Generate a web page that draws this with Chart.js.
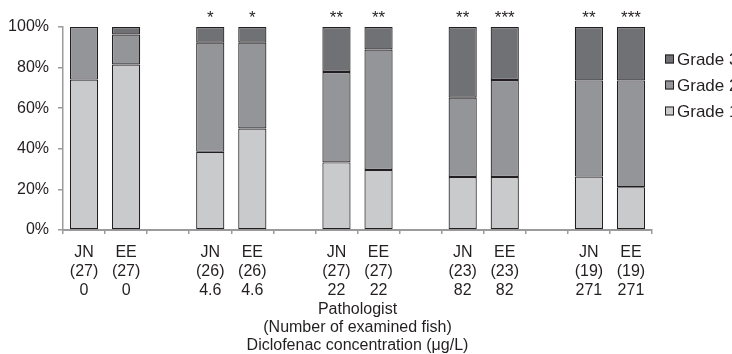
<!DOCTYPE html>
<html>
<head>
<meta charset="utf-8">
<script src="https://cdn.jsdelivr.net/npm/chart.js@4"></script>
<style>
  body { margin: 0; background: #fff; }
  #wrap { width: 732px; height: 354px; }
</style>
</head>
<body>
<div id="wrap"><canvas id="grades" width="732" height="354"></canvas></div>
<script>
// empty slots separate the concentration groups
const pathologists = ['JN', 'EE', '', 'JN', 'EE', '', 'JN', 'EE', '', 'JN', 'EE', '', 'JN', 'EE'];
const fishCounts = ['(27)', '(27)', '', '(26)', '(26)', '', '(27)', '(27)', '', '(23)', '(23)', '', '(19)', '(19)'];
const concentrations = ['0', '0', '', '4.6', '4.6', '', '22', '22', '', '82', '82', '', '271', '271'];

// percent of fish per grade
const grade1 = [74.1, 81.5, null, 38.5, 50.0, null, 33.3, 29.6, null, 26.1, 26.1, null, 26.3, 21.1];
const grade2 = [25.9, 14.8, null, 53.8, 42.3, null, 44.5, 59.3, null, 39.1, 47.8, null, 47.4, 52.6];
const grade3 = [0, 3.7, null, 7.7, 7.7, null, 22.2, 11.1, null, 34.8, 26.1, null, 26.3, 26.3];

const significance = ['', '', '', '*', '*', '', '**', '**', '', '**', '***', '', '**', '***'];

const yTicks = [0, 20, 40, 60, 80, 100];

const TEXT = '#231f20';
const AXIS = '#9b9b9b';
const FONT = 'Liberation Sans, Arial, sans-serif';

const labels = pathologists.map((p, i) => p ? [p, fishCounts[i], concentrations[i]] : '');

// stars above each bar
const starPlugin = {
  id: 'stars',
  afterDatasetsDraw(chart) {
    const ctx = chart.ctx;
    const meta = chart.getDatasetMeta(0);
    ctx.save();
    ctx.font = '17px ' + FONT;
    ctx.fillStyle = TEXT;
    ctx.textAlign = 'center';
    ctx.textBaseline = 'alphabetic';
    significance.forEach((s, i) => {
      if (!s) return;
      const bar = meta.data[i];
      ctx.fillText(s, bar.x, chart.chartArea.top - 4);
    });
    ctx.restore();
  }
};

// legend to the right, top grade first
const legendPlugin = {
  id: 'sideLegend',
  afterDraw(chart) {
    const ctx = chart.ctx;
    const x = chart.chartArea.right + 13;
    const sets = chart.data.datasets.slice().reverse();
    ctx.save();
    ctx.font = '17px ' + FONT;
    ctx.textBaseline = 'middle';
    ctx.textAlign = 'left';
    sets.forEach((ds, i) => {
      const y = chart.chartArea.top + 32 + i * 26;
      ctx.fillStyle = ds.backgroundColor;
      ctx.fillRect(x, y - 4.5, 9, 9);
      ctx.strokeStyle = TEXT;
      ctx.lineWidth = 1;
      ctx.strokeRect(x + 0.5, y - 4, 8, 8);
      ctx.fillStyle = TEXT;
      ctx.fillText(ds.label, x + 12, y + 1);
    });
    ctx.restore();
  }
};

const barStyle = {
  borderColor: TEXT,
  borderWidth: 1.2,
  borderSkipped: false,
  barPercentage: 1,
  categoryPercentage: 0.67
};

new Chart(document.getElementById('grades'), {
  type: 'bar',
  data: {
    labels: labels,
    datasets: [
      Object.assign({ label: 'Grade 1', data: grade1, backgroundColor: '#c9cacc' }, barStyle),
      Object.assign({ label: 'Grade 2', data: grade2, backgroundColor: '#949598' }, barStyle),
      Object.assign({ label: 'Grade 3', data: grade3, backgroundColor: '#707174' }, barStyle)
    ]
  },
  options: {
    responsive: false,
    animation: false,
    layout: { padding: { top: 27, right: 80, left: 0, bottom: 0 } },
    plugins: {
      legend: { display: false },
      tooltip: { enabled: false }
    },
    scales: {
      x: {
        stacked: true,
        afterFit: s => { s.height = 124; },
        grid: { offset: true, drawOnChartArea: false, tickLength: 4, color: AXIS, lineWidth: 1.5 },
        border: { color: AXIS, width: 2 },
        ticks: {
          autoSkip: false,
          maxRotation: 0,
          padding: 9,
          color: TEXT,
          font: { family: FONT, size: 16, lineHeight: 1.19 }
        },
        title: {
          display: true,
          text: ['Pathologist', '(Number of examined fish)', 'Diclofenac concentration (\u03bcg/L)'],
          color: TEXT,
          font: { family: FONT, size: 16, lineHeight: 1.1 },
          padding: { top: 0, bottom: 0 }
        }
      },
      y: {
        stacked: true,
        min: 0,
        max: 100,
        afterFit: s => { s.width = 63; },
        afterBuildTicks: s => { s.ticks = yTicks.map(v => ({ value: v })); },
        grid: { drawOnChartArea: false, tickLength: 5, color: AXIS, lineWidth: 1.5 },
        border: { color: AXIS, width: 1.5 },
        ticks: {
          padding: 9,
          color: TEXT,
          font: { family: FONT, size: 16 },
          callback: v => v + '%'
        }
      }
    }
  },
  plugins: [starPlugin, legendPlugin]
});
</script>
</body>
</html>
